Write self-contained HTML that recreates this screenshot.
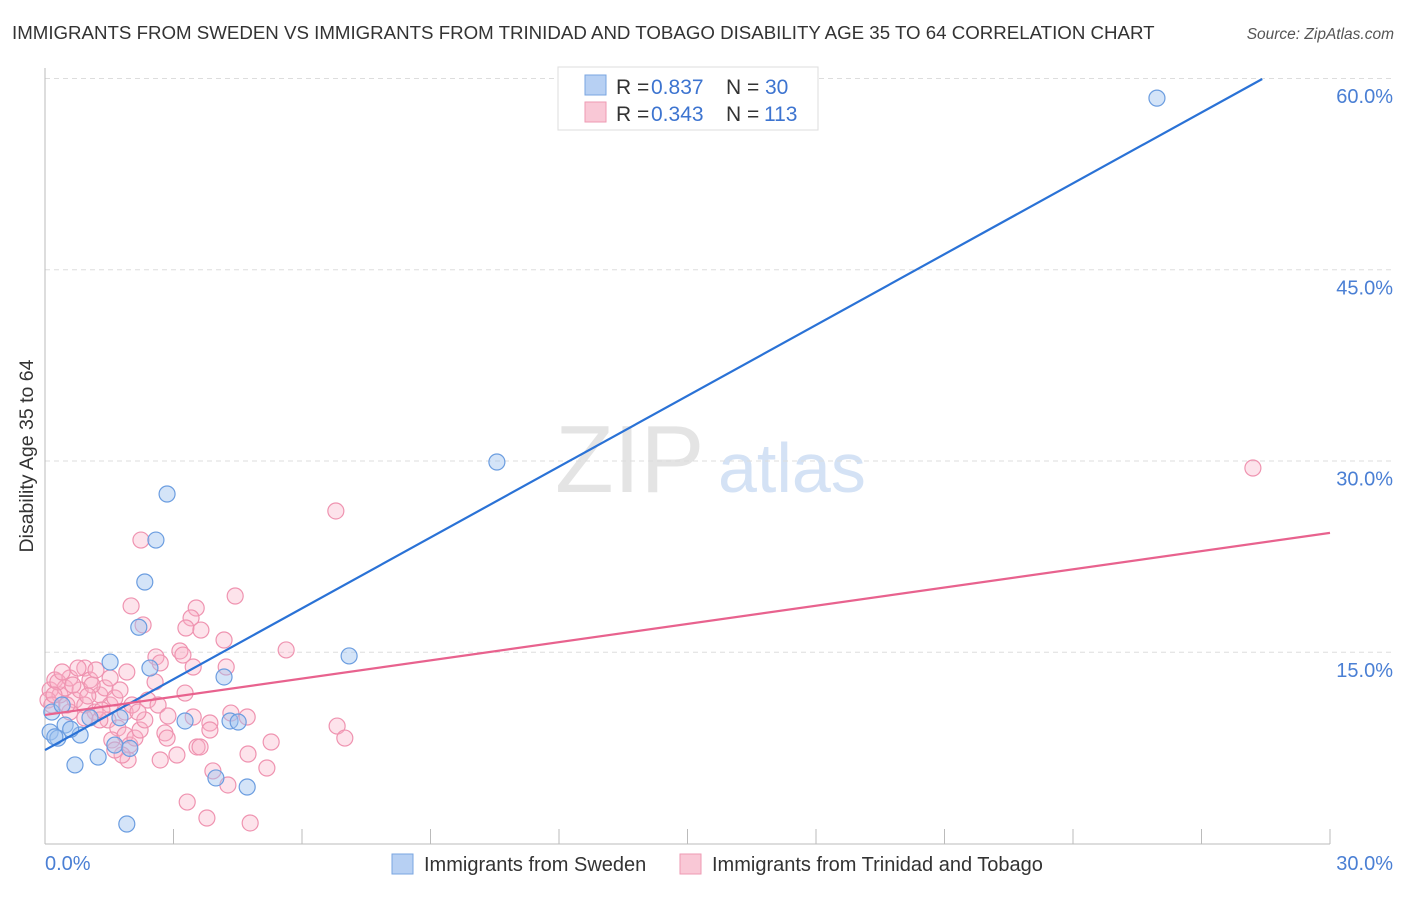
<!DOCTYPE html>
<html><head><meta charset="utf-8"><style>
body{margin:0;background:#fff;font-family:"Liberation Sans",sans-serif;}
svg text{font-family:"Liberation Sans",sans-serif;}
</style></head><body>
<svg id="chart" width="1406" height="892" viewBox="0 0 1406 892" xmlns="http://www.w3.org/2000/svg">
<text x="12" y="39" font-size="18.7" fill="#333">IMMIGRANTS FROM SWEDEN VS IMMIGRANTS FROM TRINIDAD AND TOBAGO DISABILITY AGE 35 TO 64 CORRELATION CHART</text>
<text x="1394" y="39" font-size="15.5" fill="#555" font-style="italic" text-anchor="end">Source: ZipAtlas.com</text>
<g>
<text x="555" y="492" font-size="96" fill="#e4e4e4" font-family="Liberation Serif, serif">ZIP</text>
<text x="718" y="492" font-size="70" fill="#d4e2f5">atlas</text>
</g>
<g id="grid"></g>
<g id="axes"></g>
<g id="marks"></g>
<text transform="translate(33,456) rotate(-90)" font-size="19.5" fill="#333" text-anchor="middle">Disability Age 35 to 64</text>
<g>
<rect x="558" y="67" width="260" height="63" fill="#fff" stroke="#ddd"/>
<rect x="585" y="75" width="21" height="20" fill="#b7d0f3" stroke="#7aa6e0"/>
<text x="616" y="94" font-size="21" fill="#333">R = </text><text x="651" y="94" font-size="21" fill="#3d74d0">0.837</text>
<text x="726" y="94" font-size="21" fill="#333">N = </text><text x="765" y="94" font-size="21" fill="#3d74d0">30</text>
<rect x="585" y="102" width="21" height="20" fill="#f9c8d6" stroke="#ee9ab3"/>
<text x="616" y="121" font-size="21" fill="#333">R = </text><text x="651" y="121" font-size="21" fill="#3d74d0">0.343</text>
<text x="726" y="121" font-size="21" fill="#333">N = </text><text x="764" y="121" font-size="21" fill="#3d74d0">113</text>
</g>
<g>
<g><rect x="392" y="854" width="21" height="20" fill="#b7d0f3" stroke="#7aa6e0"/><text x="424" y="871" font-size="20" fill="#333">Immigrants from Sweden</text></g>
<g><rect x="680" y="854" width="21" height="20" fill="#f9c8d6" stroke="#ee9ab3"/><text x="712" y="871" font-size="20" fill="#333">Immigrants from Trinidad and Tobago</text></g>
</g>
</svg>
<script>
const xTicks=[0,30];
const yTicks=[15,30,45,60];
const blueX=[25.96,10.55,2.85,2.59,2.33,2.19,7.10,1.52,2.45,4.18,3.27,4.32,4.51,1.75,0.16,0.47,0.12,0.30,0.82,1.63,1.24,0.70,3.99,4.72,1.91,1.05,1.98,0.40,0.23,0.60];
const blueY=[58.5,29.96,27.45,23.84,20.55,17.0,14.75,14.27,13.8,13.1,9.65,9.65,9.57,9.9,10.35,9.33,8.78,8.3,8.55,7.76,6.82,6.2,5.18,4.47,1.57,9.9,7.5,10.9,8.4,9.0];
const pinkX=[4.44,2.01,3.53,3.41,3.29,3.64,2.29,4.18,5.63,3.15,3.22,2.59,2.69,3.46,4.23,1.91,0.93,2.57,3.27,2.40,2.64,2.87,3.46,3.85,3.85,4.34,4.72,2.80,2.85,3.55,3.62,3.08,2.69,5.28,4.74,5.18,3.92,4.27,3.32,3.78,4.79,6.82,7.0,2.24,6.79,28.2,0.12,0.23,0.35,0.07,0.47,0.58,0.70,0.82,0.93,1.05,1.17,1.28,1.40,1.52,1.63,1.75,1.87,1.47,0.93,0.58,0.30,0.16,0.40,0.77,1.10,1.28,1.70,1.56,1.87,1.98,2.10,1.94,1.80,2.22,2.33,1.19,1.00,0.65,0.51,0.21,1.52,1.33,2.03,2.17,1.63];
const pinkY=[19.45,18.67,18.51,17.73,16.94,16.78,17.18,16.0,15.22,15.14,14.82,14.67,14.2,13.88,13.88,13.49,13.8,12.71,11.84,11.29,10.9,10.04,9.96,9.49,8.94,10.27,9.96,8.71,8.31,7.61,7.61,6.98,6.59,8.0,7.06,5.96,5.73,4.63,3.29,2.04,1.65,9.25,8.31,23.84,26.12,29.49,12.08,12.86,11.69,11.29,12.24,13.02,11.29,12.08,10.9,12.86,10.35,11.69,12.24,10.9,11.45,12.08,10.35,9.73,9.88,10.35,12.71,10.9,13.49,13.8,12.47,9.73,9.1,8.16,8.55,7.76,8.31,6.59,6.98,8.94,9.73,13.65,11.61,12.47,10.9,11.69,13.02,10.51,10.9,10.35,7.37];
const blueLine=[7.37,1.852];
const pinkLine=[10.12,0.476];
const X=v=>45+v*1285/30, Y=v=>844-v*12.75;
const NS="http://www.w3.org/2000/svg";
function mk(t,a,p){const e=document.createElementNS(NS,t);for(const k in a)e.setAttribute(k,a[k]);p.appendChild(e);return e;}
const grid=document.getElementById('grid'),axes=document.getElementById('axes'),marks=document.getElementById('marks');
yTicks.forEach(v=>{
 const l=mk('line',{x1:45,x2:1392,y1:Y(v)-0.5,y2:Y(v)-0.5,stroke:'#ddd','stroke-dasharray':'5,4'},grid);
 
 
 const t=mk('text',{x:1393,y:Y(v)+24,'font-size':20,fill:'#4a7fd4','text-anchor':'end'},grid);
 t.textContent=v.toFixed(1)+'%';
 
 
});
const ya=mk('line',{x1:45,x2:45,y1:68,y2:844,stroke:'#bbb'},axes);


const xa=mk('line',{x1:45,x2:1330,y1:844,y2:844,stroke:'#bbb'},axes);


for(let i=1;i<=10;i++){const tk=mk('line',{x1:X(i*3),x2:X(i*3),y1:829,y2:844,stroke:'#bbb'},axes);
 
 }
xTicks.forEach((v,i)=>{const t=mk('text',{x:i?1393:45,y:870,'font-size':20,fill:'#4a7fd4','text-anchor':i?'end':'start'},axes);
 t.textContent=v.toFixed(1)+'%';
 
 });
pinkX.forEach((x,i)=>{const c=mk('circle',{cx:X(x),cy:Y(pinkY[i]),r:8,fill:'rgba(248,175,198,0.35)',stroke:'#ef93b0','stroke-width':1.2},marks);
 
 });
blueX.forEach((x,i)=>{const c=mk('circle',{cx:X(x),cy:Y(blueY[i]),r:8,fill:'rgba(160,196,240,0.45)',stroke:'#6b9de0','stroke-width':1.2},marks);
 
 });
const bxEnd=(60-blueLine[0])/blueLine[1];
const bl=mk('line',{x1:X(0),y1:Y(blueLine[0]),x2:X(bxEnd),y2:Y(60),stroke:'#2a72d6','stroke-width':2.2},marks);


const pl=mk('line',{x1:X(0),y1:Y(pinkLine[0]),x2:X(30),y2:Y(pinkLine[0]+pinkLine[1]*30),stroke:'#e8628e','stroke-width':2.2},marks);


</script>
</body></html>
